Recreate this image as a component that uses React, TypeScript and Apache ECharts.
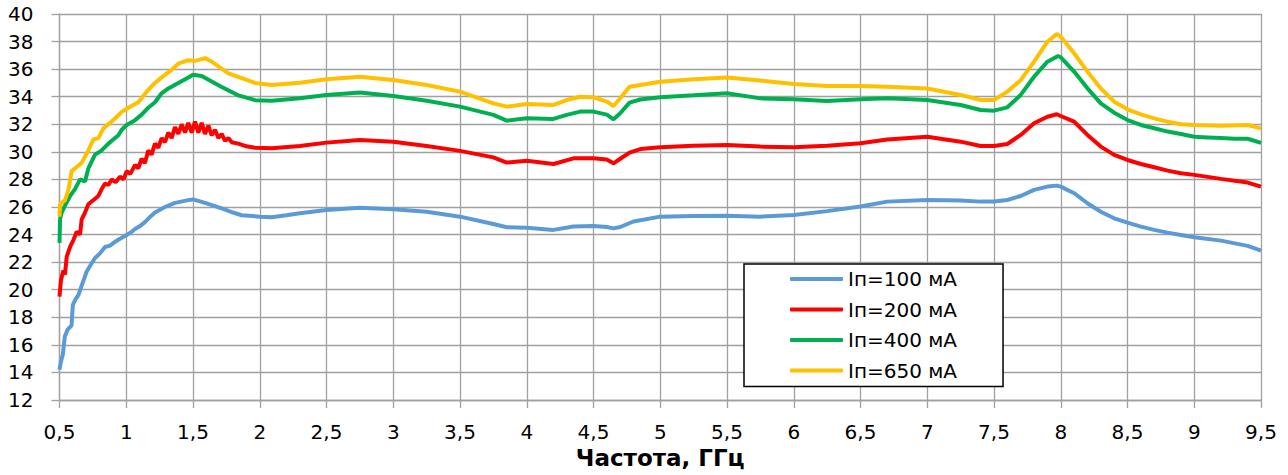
import React, { useEffect, useRef } from "react";
import * as echarts from "echarts";

const seriesNames = ["Iп=100 мА", "Iп=200 мА", "Iп=400 мА", "Iп=650 мА"];
const seriesColors = ["#5B9BD5", "#FF0000", "#00B050", "#FFC000"];

const xTicksMin = 0.5;
const xTicksMax = 9.5;
const yTicksMin = 12;
const yTicksMax = 40;

const data100: number[][] = [
  [0.5, 14.2], [0.511, 14.8], [0.525, 15.3], [0.54, 16.6], [0.56, 17.1], [0.59, 17.4], [0.6, 18.9],
  [0.62, 19.3], [0.641, 19.6], [0.666, 20.3], [0.703, 21.3], [0.74, 21.9], [0.766, 22.3], [0.8, 22.6],
  [0.841, 23.1], [0.878, 23.2], [0.92, 23.5], [0.953, 23.7], [1.0, 23.95], [1.04, 24.2], [1.066, 24.4],
  [1.1, 24.6], [1.14, 24.9], [1.18, 25.3], [1.215, 25.6], [1.29, 26.0], [1.365, 26.3], [1.465, 26.5],
  [1.5, 26.55], [1.59, 26.3], [1.715, 25.9], [1.8, 25.6], [1.865, 25.4], [2.0, 25.3], [2.09, 25.25],
  [2.2, 25.4], [2.3, 25.55], [2.5, 25.79], [2.75, 25.95], [3.0, 25.84], [3.25, 25.66], [3.5, 25.3],
  [3.75, 24.77], [3.85, 24.53], [4.0, 24.5], [4.2, 24.34], [4.35, 24.58], [4.5, 24.63], [4.6, 24.55],
  [4.65, 24.45], [4.7, 24.55], [4.8, 24.95], [5.0, 25.3], [5.25, 25.35], [5.5, 25.37], [5.75, 25.3],
  [6.0, 25.42], [6.25, 25.7], [6.5, 26.03], [6.7, 26.39], [7.0, 26.51], [7.25, 26.47], [7.4, 26.39],
  [7.5, 26.4], [7.6, 26.51], [7.7, 26.8], [7.8, 27.24], [7.9, 27.48], [7.97, 27.55], [8.0, 27.48],
  [8.1, 27.0], [8.2, 26.27], [8.3, 25.66], [8.4, 25.18], [8.5, 24.87], [8.6, 24.58], [8.7, 24.34],
  [8.8, 24.14], [8.9, 23.97], [9.0, 23.8], [9.2, 23.56], [9.4, 23.18], [9.5, 22.84],
];

const data200: number[][] = [
  [0.5, 19.5], [0.511, 20.7], [0.529, 21.4], [0.541, 21.1], [0.554, 22.4], [0.579, 23.1], [0.604, 23.6],
  [0.629, 24.2], [0.654, 24.0], [0.666, 25.1], [0.691, 25.6], [0.716, 26.2], [0.741, 26.4], [0.791, 26.8],
  [0.816, 27.3], [0.841, 27.7], [0.866, 27.6], [0.891, 28.0], [0.92, 27.8], [0.953, 28.2], [0.98, 28.0],
  [1.003, 28.6], [1.03, 28.4], [1.066, 29.05], [1.09, 28.8], [1.115, 29.5], [1.14, 29.2], [1.165, 30.1],
  [1.19, 29.8], [1.215, 30.6], [1.24, 30.3], [1.265, 31.0], [1.29, 30.7], [1.315, 31.4], [1.34, 31.0],
  [1.365, 31.8], [1.39, 31.3], [1.415, 32.0], [1.44, 31.4], [1.465, 32.1], [1.49, 31.4], [1.515, 32.2],
  [1.54, 31.4], [1.565, 32.1], [1.59, 31.3], [1.615, 31.9], [1.64, 31.2], [1.665, 31.6], [1.69, 31.0],
  [1.715, 31.3], [1.74, 30.8], [1.765, 31.0], [1.79, 30.7], [1.84, 30.6], [1.9, 30.4], [1.965, 30.3],
  [2.09, 30.26], [2.3, 30.43], [2.5, 30.67], [2.75, 30.86], [3.0, 30.74], [3.25, 30.43], [3.5, 30.07],
  [3.75, 29.6], [3.85, 29.22], [4.0, 29.36], [4.2, 29.12], [4.35, 29.53], [4.5, 29.53], [4.6, 29.45],
  [4.65, 29.17], [4.7, 29.5], [4.77, 29.95], [4.85, 30.2], [5.0, 30.33], [5.25, 30.45], [5.5, 30.5],
  [5.75, 30.38], [6.0, 30.33], [6.25, 30.45], [6.5, 30.62], [6.7, 30.9], [7.0, 31.1], [7.25, 30.74],
  [7.4, 30.43], [7.5, 30.43], [7.6, 30.57], [7.7, 31.23], [7.8, 32.07], [7.9, 32.55], [7.97, 32.73],
  [8.0, 32.6], [8.1, 32.19], [8.2, 31.23], [8.3, 30.38], [8.4, 29.78], [8.5, 29.41], [8.6, 29.12],
  [8.7, 28.88], [8.8, 28.64], [8.9, 28.45], [9.0, 28.33], [9.2, 28.04], [9.4, 27.77], [9.5, 27.48],
];

const data400: number[][] = [
  [0.5, 23.4], [0.504, 25.1], [0.516, 25.6], [0.541, 26.1], [0.579, 26.8], [0.616, 27.3], [0.654, 28.0],
  [0.679, 27.9], [0.691, 27.85], [0.716, 28.8], [0.766, 29.8], [0.816, 30.1], [0.866, 30.6], [0.941, 31.2],
  [0.966, 31.6], [1.003, 31.95], [1.066, 32.3], [1.115, 32.7], [1.165, 33.2], [1.215, 33.6], [1.265, 34.25],
  [1.315, 34.6], [1.39, 35.0], [1.465, 35.4], [1.5, 35.6], [1.565, 35.5], [1.64, 35.1], [1.715, 34.7],
  [1.84, 34.1], [1.965, 33.75], [2.09, 33.7], [2.3, 33.89], [2.5, 34.13], [2.75, 34.3], [3.0, 34.05],
  [3.25, 33.71], [3.5, 33.28], [3.75, 32.68], [3.85, 32.26], [4.0, 32.43], [4.2, 32.39], [4.3, 32.68],
  [4.4, 32.92], [4.5, 32.92], [4.6, 32.7], [4.65, 32.36], [4.7, 32.8], [4.77, 33.57], [4.85, 33.8],
  [5.0, 33.96], [5.25, 34.1], [5.5, 34.25], [5.75, 33.88], [6.0, 33.81], [6.25, 33.69], [6.5, 33.81],
  [6.7, 33.89], [7.0, 33.76], [7.25, 33.4], [7.4, 33.04], [7.5, 32.99], [7.6, 33.23], [7.7, 34.13],
  [7.8, 35.45], [7.9, 36.54], [7.98, 36.95], [8.0, 36.86], [8.1, 35.82], [8.2, 34.61], [8.3, 33.52],
  [8.4, 32.84], [8.5, 32.31], [8.6, 31.95], [8.7, 31.71], [8.8, 31.47], [8.9, 31.3], [9.0, 31.1],
  [9.1, 31.05], [9.2, 31.0], [9.3, 30.95], [9.4, 30.95], [9.5, 30.65],
];

const data650: number[][] = [
  [0.5, 25.3], [0.504, 26.2], [0.541, 26.5], [0.566, 27.2], [0.591, 28.6], [0.629, 28.9], [0.666, 29.2],
  [0.716, 30.1], [0.753, 30.9], [0.791, 31.0], [0.828, 31.7], [0.891, 32.2], [0.966, 32.9], [1.016, 33.2],
  [1.09, 33.6], [1.165, 34.5], [1.215, 35.0], [1.265, 35.4], [1.34, 35.95], [1.39, 36.4], [1.465, 36.65],
  [1.515, 36.6], [1.59, 36.8], [1.64, 36.55], [1.69, 36.2], [1.765, 35.7], [1.865, 35.35], [1.965, 35.0],
  [2.09, 34.85], [2.3, 35.02], [2.5, 35.26], [2.75, 35.45], [3.0, 35.21], [3.25, 34.85], [3.5, 34.37],
  [3.75, 33.52], [3.85, 33.28], [4.0, 33.47], [4.2, 33.4], [4.3, 33.76], [4.4, 34.0], [4.5, 33.96],
  [4.6, 33.64], [4.65, 33.33], [4.7, 33.89], [4.77, 34.73], [5.0, 35.09], [5.25, 35.26], [5.5, 35.4],
  [5.75, 35.17], [6.0, 34.92], [6.25, 34.78], [6.5, 34.78], [6.7, 34.73], [7.0, 34.6], [7.25, 34.13],
  [7.4, 33.76], [7.5, 33.76], [7.6, 34.37], [7.7, 35.2], [7.8, 36.54], [7.9, 37.99], [7.97, 38.55],
  [8.0, 38.35], [8.1, 37.15], [8.2, 35.82], [8.3, 34.6], [8.4, 33.64], [8.5, 33.09], [8.6, 32.72],
  [8.7, 32.43], [8.8, 32.19], [8.9, 32.0], [9.0, 31.95], [9.2, 31.9], [9.4, 31.95], [9.5, 31.7],
];

const allData = [data100, data200, data400, data650];

const FONT = "DejaVu Sans";
const GRID = "#A0A0A0";

export default function App() {
  const ref = useRef<HTMLDivElement>(null);
  useEffect(() => {
    if (!ref.current) return;
    const chart = echarts.init(ref.current, undefined, { renderer: "svg" });
    chart.setOption({
      animation: false,
      backgroundColor: "#ffffff",
      grid: { left: 59.5, right: 27, top: 14, bottom: 75, containLabel: false },
      xAxis: {
        type: "value",
        min: xTicksMin,
        max: xTicksMax,
        interval: 0.5,
        name: "Частота, ГГц",
        nameLocation: "middle",
        nameGap: 43,
        nameTextStyle: { fontFamily: FONT, fontSize: 23, fontWeight: "bold", color: "#000" },
        axisLine: { show: true, lineStyle: { color: GRID, width: 1.3 } },
        axisTick: { show: true, length: 8, lineStyle: { color: GRID, width: 1.3 } },
        splitLine: { show: true, lineStyle: { color: GRID, width: 1.3 } },
        axisLabel: {
          margin: 22,
          fontFamily: FONT,
          fontSize: 20,
          color: "#000",
          formatter: (v: number) => String(Number(v.toFixed(1))).replace(".", ","),
        },
      },
      yAxis: {
        type: "value",
        min: yTicksMin,
        max: yTicksMax,
        interval: 2,
        axisLine: { show: true, lineStyle: { color: GRID, width: 1.3 } },
        axisTick: { show: true, length: 8, lineStyle: { color: GRID, width: 1.3 } },
        splitLine: { show: true, lineStyle: { color: GRID, width: 1.3 } },
        axisLabel: { margin: 26, fontFamily: FONT, fontSize: 20, color: "#000" },
      },
      legend: {
        orient: "vertical",
        left: 744,
        top: 264,
        backgroundColor: "#ffffff",
        borderColor: "#000000",
        borderWidth: 1.5,
        padding: [5, 46, 6, 46],
        itemWidth: 53,
        itemHeight: 4,
        itemGap: 10.5,
        icon: "roundRect",
        textStyle: { fontFamily: FONT, fontSize: 20, color: "#000", lineHeight: 20 },
        data: seriesNames,
      },
      series: allData.map((d, i) => ({
        name: seriesNames[i],
        type: "line",
        data: d,
        symbol: "none",
        showSymbol: false,
        color: seriesColors[i],
        itemStyle: { color: seriesColors[i] },
        lineStyle: { color: seriesColors[i], width: 4 },
      })),
    });
    return () => chart.dispose();
  }, []);
  return (
    <div
      ref={ref}
      style={{ position: "absolute", left: 0, top: 0, width: 1288, height: 475 }}
    />
  );
}
